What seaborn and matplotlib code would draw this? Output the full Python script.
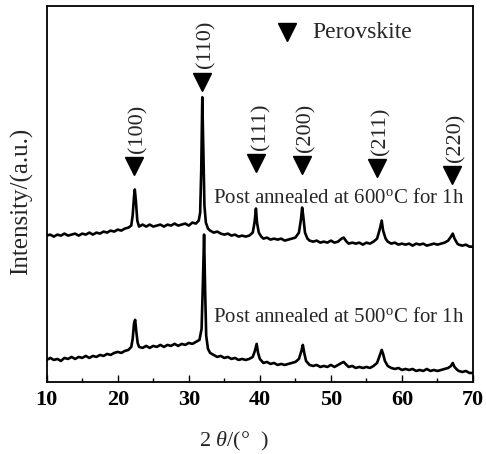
import numpy as np
import pandas as pd
import matplotlib
matplotlib.use("Agg")
import matplotlib.pyplot as plt
import seaborn as sns

# ---- data (arbitrary intensity units) ----
two_theta_600 = [10.0, 10.5, 11.0, 11.5, 12.0, 12.5, 13.0, 13.5, 14.0, 14.5, 15.0, 15.5, 16.0, 16.5,
                 17.0, 17.5, 18.0, 18.5, 19.0, 19.5, 20.0, 20.5, 21.0, 21.5, 21.9, 22.1, 22.3, 22.4,
                 22.55, 22.75, 23.0, 23.5, 24.0, 24.5, 25.0, 25.5, 26.0, 26.5, 27.0, 27.5, 28.0, 28.5,
                 29.0, 29.5, 30.0, 30.5, 31.0, 31.4, 31.6, 31.75, 31.9, 32.05, 32.2, 32.4, 32.7, 33.0,
                 33.5, 34.0, 34.5, 35.0, 35.5, 36.0, 36.5, 37.0, 37.5, 38.0, 38.5, 39.0, 39.25, 39.45,
                 39.6, 39.85, 40.2, 40.5, 41.0, 41.5, 42.0, 42.5, 43.0, 43.5, 44.0, 44.5, 45.0, 45.5,
                 45.8, 45.95, 46.1, 46.35, 46.7, 47.0, 47.5, 48.0, 48.5, 49.0, 49.5, 50.0, 50.5, 51.0,
                 51.5, 51.8, 52.2, 52.5, 53.0, 53.5, 54.0, 54.5, 55.0, 55.5, 56.0, 56.5, 56.9, 57.15,
                 57.35, 57.7, 58.0, 58.5, 59.0, 59.5, 60.0, 60.5, 61.0, 61.5, 62.0, 62.5, 63.0, 63.5,
                 64.0, 64.5, 65.0, 65.5, 66.0, 66.5, 66.9, 67.15, 67.4, 67.8, 68.0, 68.5, 69.0, 69.5, 70.0]
intensity_600 = [146, 147, 145, 147, 146, 148, 146, 147, 148, 146, 148, 147, 149, 147,
                 149, 148, 150, 149, 151, 150, 152, 151, 153, 154, 156, 166, 186, 192,
                 181, 161, 155, 157, 155, 157, 155, 156, 157, 155, 157, 156, 158, 156,
                 157, 158, 156, 159, 158, 161, 169, 211, 284, 231, 176, 159, 153, 151,
                 149, 150, 148, 147, 148, 146, 147, 145, 146, 145, 146, 149, 159, 173,
                 159, 149, 145, 143, 144, 142, 143, 142, 143, 141, 142, 143, 144, 149,
                 163, 174, 166, 149, 143, 141, 140, 141, 139, 140, 139, 141, 139, 140,
                 143, 144, 140, 138, 139, 138, 139, 137, 139, 138, 140, 143, 153, 161,
                 151, 143, 140, 138, 139, 137, 138, 137, 138, 136, 138, 137, 138, 136,
                 137, 138, 137, 138, 139, 141, 145, 148, 143, 138, 137, 136, 137, 135, 135]

two_theta_500 = [10.0, 10.5, 11.0, 11.5, 12.0, 12.5, 13.0, 13.5, 14.0, 14.5, 15.0, 15.5, 16.0, 16.5,
                 17.0, 17.5, 18.0, 18.5, 19.0, 19.5, 20.0, 20.5, 21.0, 21.5, 21.9, 22.1, 22.3, 22.45,
                 22.6, 22.8, 23.0, 23.5, 24.0, 24.5, 25.0, 25.5, 26.0, 26.5, 27.0, 27.5, 28.0, 28.5,
                 29.0, 29.5, 30.0, 30.5, 31.0, 31.5, 31.8, 32.0, 32.15, 32.3, 32.45, 32.7, 33.0,
                 33.5, 34.0, 34.5, 35.0, 35.5, 36.0, 36.5, 37.0, 37.5, 38.0, 38.5, 39.0, 39.3, 39.55,
                 39.75, 40.0, 40.5, 41.0, 41.5, 42.0, 42.5, 43.0, 43.5, 44.0, 44.5, 45.0, 45.5,
                 45.85, 46.05, 46.25, 46.5, 47.0, 47.5, 48.0, 48.5, 49.0, 49.5, 50.0, 50.5, 51.0,
                 51.5, 51.8, 52.2, 52.5, 53.0, 53.5, 54.0, 54.5, 55.0, 55.5, 56.0, 56.5, 56.9, 57.15,
                 57.35, 57.6, 58.0, 58.5, 59.0, 59.5, 60.0, 60.5, 61.0, 61.5, 62.0, 62.5, 63.0, 63.5,
                 64.0, 64.5, 65.0, 65.5, 66.0, 66.5, 66.9, 67.15, 67.4, 67.8, 68.0, 68.5, 69.0, 69.5, 70.0]
intensity_500 = [22, 24, 22, 23, 21, 24, 23, 25, 23, 25, 24, 26, 24, 26,
                 25, 27, 26, 28, 27, 29, 30, 29, 31, 32, 35, 43, 59, 62,
                 51, 39, 35, 34, 36, 34, 36, 35, 37, 35, 37, 36, 38, 36,
                 38, 37, 39, 38, 40, 42, 53, 103, 147, 91, 46, 33, 29,
                 27, 25, 26, 24, 25, 23, 24, 22, 23, 22, 23, 25, 31, 38,
                 29, 23, 19, 20, 18, 19, 17, 18, 17, 18, 19, 20, 23,
                 31, 37, 29, 21, 17, 16, 17, 15, 16, 15, 17, 15, 17,
                 19, 20, 17, 15, 16, 14, 15, 14, 15, 14, 16, 19, 27, 32,
                 28, 21, 16, 14, 13, 14, 12, 13, 12, 13, 11, 12, 11, 13,
                 11, 12, 11, 12, 13, 14, 16, 19, 15, 12, 11, 10, 11, 9, 9]

peak_labels = ["(100)", "(110)", "(111)", "(200)", "(211)", "(220)"]
peak_positions = [22.3, 31.8, 39.5, 45.95, 56.5, 67.05]
marker_heights = [215, 299, 218, 216, 213, 206]

x_ticks = [10, 20, 30, 40, 50, 60, 70]

# ---- style ----
sns.set_theme(style="ticks")
plt.rcParams["font.family"] = ["Liberation Serif", "DejaVu Serif"]
plt.rcParams["mathtext.fontset"] = "custom"
plt.rcParams["mathtext.rm"] = "Liberation Serif"
plt.rcParams["mathtext.it"] = "Liberation Serif:italic"

fig = plt.figure(figsize=(4.86, 4.54), dpi=100)
ax = fig.add_axes([46.7 / 486, 1 - 382 / 454, (473 - 46.7) / 486, (382 - 6) / 454])

df = pd.concat([
    pd.DataFrame({"two_theta": two_theta_600, "intensity": intensity_600, "sample": "600"}),
    pd.DataFrame({"two_theta": two_theta_500, "intensity": intensity_500, "sample": "500"}),
])
for name, sub in df.groupby("sample"):
    sns.lineplot(data=sub, x="two_theta", y="intensity", ax=ax, color="black",
                 linewidth=1.9, sort=False, estimator=None)

ax.set_xlim(10, 70)
ax.set_ylim(0, 375)
ax.set_xticks(x_ticks)
ax.set_xticks([15, 25, 35, 45, 55, 65], minor=True)
ax.set_xticklabels([str(t) for t in x_ticks], fontsize=16, fontweight="bold")
ax.set_yticks([])
ax.tick_params(axis="x", which="major", direction="in", length=5, width=1.0, pad=6, colors="black")
ax.tick_params(axis="x", which="minor", direction="in", length=3, width=1.0, colors="black")
ax.set_xlabel("")
ax.set_ylabel("")
for s in ax.spines.values():
    s.set_visible(True)
    s.set_linewidth(1.3)
    s.set_color("black")

# peak markers and labels
ax.plot(peak_positions, marker_heights, linestyle="none", marker="v", color="black", markersize=13)
for lab, xp, yp in zip(peak_labels, peak_positions, marker_heights):
    ax.annotate(lab, (xp, yp), xytext=(3, 10), textcoords="offset points", rotation=90,
                ha="center", va="bottom", fontsize=16)

# legend-like marker
ax.plot([43.85], [349], linestyle="none", marker="v", color="black", markersize=13)
ax.text(47.4, 349, "Perovskite", ha="left", va="center", fontsize=17)

ax.text(33.4, 183, "Post annealed at 600$^{\\mathrm{o}}$C for 1h", ha="left", va="center", fontsize=15)
ax.text(33.4, 64, "Post annealed at 500$^{\\mathrm{o}}$C for 1h", ha="left", va="center", fontsize=15)

fig.text(22 / 486, 1 - 201 / 454, "Intensity/(a.u.)", rotation=90, ha="center", va="center", fontsize=18)
fig.text(234 / 486, 1 - 441 / 454, "2 $\\it{\\theta}$/(°  )", ha="center", va="center", fontsize=16)

fig.savefig("out.png", dpi=100, facecolor="white")
